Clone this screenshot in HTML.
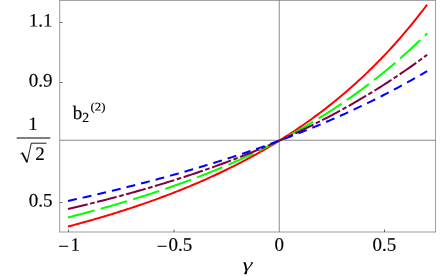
<!DOCTYPE html>
<html><head><meta charset="utf-8"><title>plot</title>
<style>
html,body{margin:0;padding:0;background:#fff;}
svg{display:block;}
text{font-family:"Liberation Serif",serif;fill:#000;text-rendering:geometricPrecision;}
</style></head><body>
<svg width="447" height="276" viewBox="0 0 447 276">
<rect x="0" y="0" width="447" height="276" fill="#fff"/>
<!-- axes lines -->
<g stroke="#666" fill="none">
<line x1="59.7" y1="140.22" x2="435.5" y2="140.22" stroke-width="0.78"/>
<line x1="279.25" y1="0.3" x2="279.25" y2="232" stroke-width="0.76"/>
<g stroke-width="0.64">
<line x1="59.4" y1="0.45" x2="435.82" y2="0.45"/>
<line x1="59.4" y1="232" x2="435.82" y2="232"/>
<line x1="59.7" y1="0.2" x2="59.7" y2="232.3"/>
<line x1="435.5" y1="0.2" x2="435.5" y2="232.3"/>
</g>
</g>
<!-- ticks -->
<g stroke="#2a2a2a" stroke-width="0.7" fill="none">
<line x1="60" y1="22.5" x2="62.6" y2="22.5"/>
<line x1="60" y1="82.5" x2="62.6" y2="82.5"/>
<line x1="60" y1="202.6" x2="62.6" y2="202.6"/>
<line x1="68.55" y1="232" x2="68.55" y2="229.45"/>
<line x1="174" y1="232" x2="174" y2="229.45"/>
<line x1="384.5" y1="232" x2="384.5" y2="229.45"/>
</g>
<!-- curves -->
<g stroke-linecap="butt" stroke-linejoin="round">
<path d="M68.00,226.56 L70.11,226.01 L72.22,225.44 L74.34,224.88 L76.45,224.31 L78.56,223.74 L80.67,223.16 L82.79,222.58 L84.90,221.99 L87.01,221.40 L89.12,220.80 L91.24,220.20 L93.35,219.60 L95.46,218.99 L97.57,218.38 L99.69,217.76 L101.80,217.14 L103.91,216.51 L106.02,215.88 L108.13,215.24 L110.25,214.60 L112.36,213.95 L114.47,213.30 L116.58,212.64 L118.70,211.98 L120.81,211.31 L122.92,210.64 L125.03,209.96 L127.15,209.28 L129.26,208.59 L131.37,207.90 L133.48,207.20 L135.60,206.49 L137.71,205.78 L139.82,205.06 L141.93,204.34 L144.04,203.61 L146.16,202.87 L148.27,202.13 L150.38,201.39 L152.49,200.63 L154.61,199.87 L156.72,199.11 L158.83,198.34 L160.94,197.56 L163.06,196.77 L165.17,195.98 L167.28,195.18 L169.39,194.38 L171.51,193.56 L173.62,192.74 L175.73,191.92 L177.84,191.08 L179.95,190.24 L182.07,189.39 L184.18,188.54 L186.29,187.68 L188.40,186.80 L190.52,185.93 L192.63,185.04 L194.74,184.15 L196.85,183.24 L198.97,182.33 L201.08,181.42 L203.19,180.49 L205.30,179.55 L207.42,178.61 L209.53,177.66 L211.64,176.70 L213.75,175.73 L215.86,174.75 L217.98,173.77 L220.09,172.77 L222.20,171.76 L224.31,170.75 L226.43,169.73 L228.54,168.69 L230.65,167.65 L232.76,166.60 L234.88,165.53 L236.99,164.46 L239.10,163.38 L241.21,162.28 L243.33,161.18 L245.44,160.07 L247.55,158.94 L249.66,157.81 L251.77,156.66 L253.89,155.50 L256.00,154.33 L258.11,153.15 L260.22,151.96 L262.34,150.76 L264.45,149.54 L266.56,148.32 L268.67,147.08 L270.79,145.83 L272.90,144.56 L275.01,143.29 L277.12,142.00 L279.24,140.70 L281.35,139.38 L283.46,138.05 L285.57,136.71 L287.68,135.36 L289.80,133.99 L291.91,132.61 L294.02,131.21 L296.13,129.80 L298.25,128.37 L300.36,126.94 L302.47,125.48 L304.58,124.01 L306.70,122.53 L308.81,121.03 L310.92,119.51 L313.03,117.98 L315.15,116.43 L317.26,114.87 L319.37,113.29 L321.48,111.69 L323.59,110.08 L325.71,108.45 L327.82,106.80 L329.93,105.13 L332.04,103.45 L334.16,101.75 L336.27,100.03 L338.38,98.29 L340.49,96.53 L342.61,94.76 L344.72,92.96 L346.83,91.15 L348.94,89.31 L351.06,87.46 L353.17,85.59 L355.28,83.69 L357.39,81.77 L359.50,79.84 L361.62,77.88 L363.73,75.90 L365.84,73.89 L367.95,71.87 L370.07,69.82 L372.18,67.75 L374.29,65.66 L376.40,63.54 L378.52,61.40 L380.63,59.23 L382.74,57.04 L384.85,54.83 L386.97,52.59 L389.08,50.32 L391.19,48.03 L393.30,45.71 L395.41,43.36 L397.53,40.99 L399.64,38.59 L401.75,36.16 L403.86,33.70 L405.98,31.22 L408.09,28.70 L410.20,26.16 L412.31,23.59 L414.43,20.98 L416.54,18.35 L418.65,15.68 L420.76,12.98 L422.88,10.25 L424.99,7.49 L427.10,4.69" fill="none" stroke="#ff0000" stroke-width="2"/>
<path d="M68.00,217.44 L70.11,216.91 L72.22,216.37 L74.34,215.83 L76.45,215.28 L78.56,214.74 L80.67,214.19 L82.79,213.63 L84.90,213.07 L87.01,212.51 L89.12,211.95 L91.24,211.38 L93.35,210.81 L95.46,210.23 L97.57,209.65 L99.69,209.07 L101.80,208.49 L103.91,207.90 L106.02,207.30 L108.13,206.70 L110.25,206.10 L112.36,205.50 L114.47,204.89 L116.58,204.27 L118.70,203.65 L120.81,203.03 L122.92,202.41 L125.03,201.77 L127.15,201.14 L129.26,200.50 L131.37,199.86 L133.48,199.21 L135.60,198.56 L137.71,197.90 L139.82,197.24 L141.93,196.57 L144.04,195.90 L146.16,195.23 L148.27,194.55 L150.38,193.86 L152.49,193.18 L154.61,192.48 L156.72,191.78 L158.83,191.08 L160.94,190.37 L163.06,189.65 L165.17,188.94 L167.28,188.21 L169.39,187.48 L171.51,186.75 L173.62,186.01 L175.73,185.26 L177.84,184.51 L179.95,183.75 L182.07,182.99 L184.18,182.22 L186.29,181.45 L188.40,180.67 L190.52,179.88 L192.63,179.09 L194.74,178.29 L196.85,177.49 L198.97,176.68 L201.08,175.87 L203.19,175.04 L205.30,174.22 L207.42,173.38 L209.53,172.54 L211.64,171.69 L213.75,170.84 L215.86,169.98 L217.98,169.11 L220.09,168.24 L222.20,167.36 L224.31,166.47 L226.43,165.58 L228.54,164.67 L230.65,163.77 L232.76,162.85 L234.88,161.93 L236.99,161.00 L239.10,160.06 L241.21,159.11 L243.33,158.16 L245.44,157.20 L247.55,156.23 L249.66,155.25 L251.77,154.27 L253.89,153.27 L256.00,152.27 L258.11,151.26 L260.22,150.25 L262.34,149.22 L264.45,148.19 L266.56,147.14 L268.67,146.09 L270.79,145.03 L272.90,143.96 L275.01,142.88 L277.12,141.80 L279.24,140.70 L281.35,139.59 L283.46,138.48 L285.57,137.35 L287.68,136.22 L289.80,135.07 L291.91,133.92 L294.02,132.76 L296.13,131.58 L298.25,130.40 L300.36,129.20 L302.47,128.00 L304.58,126.78 L306.70,125.56 L308.81,124.32 L310.92,123.07 L313.03,121.81 L315.15,120.54 L317.26,119.26 L319.37,117.97 L321.48,116.66 L323.59,115.35 L325.71,114.02 L327.82,112.68 L329.93,111.33 L332.04,109.97 L334.16,108.59 L336.27,107.20 L338.38,105.80 L340.49,104.38 L342.61,102.96 L344.72,101.52 L346.83,100.06 L348.94,98.60 L351.06,97.12 L353.17,95.62 L355.28,94.11 L357.39,92.59 L359.50,91.05 L361.62,89.50 L363.73,87.94 L365.84,86.36 L367.95,84.76 L370.07,83.15 L372.18,81.53 L374.29,79.89 L376.40,78.23 L378.52,76.56 L380.63,74.87 L382.74,73.17 L384.85,71.44 L386.97,69.71 L389.08,67.95 L391.19,66.18 L393.30,64.39 L395.41,62.59 L397.53,60.76 L399.64,58.92 L401.75,57.06 L403.86,55.19 L405.98,53.29 L408.09,51.37 L410.20,49.44 L412.31,47.49 L414.43,45.51 L416.54,43.52 L418.65,41.51 L420.76,39.48 L422.88,37.42 L424.99,35.35 L427.10,33.26" fill="none" stroke="#00ff00" stroke-width="2" stroke-dasharray="27.4 6.4"/>
<path d="M68.00,208.96 L70.11,208.47 L72.22,207.98 L74.34,207.48 L76.45,206.98 L78.56,206.48 L80.67,205.97 L82.79,205.46 L84.90,204.95 L87.01,204.44 L89.12,203.92 L91.24,203.40 L93.35,202.87 L95.46,202.34 L97.57,201.81 L99.69,201.28 L101.80,200.74 L103.91,200.20 L106.02,199.66 L108.13,199.11 L110.25,198.56 L112.36,198.01 L114.47,197.45 L116.58,196.89 L118.70,196.32 L120.81,195.75 L122.92,195.18 L125.03,194.61 L127.15,194.03 L129.26,193.45 L131.37,192.86 L133.48,192.27 L135.60,191.68 L137.71,191.08 L139.82,190.48 L141.93,189.88 L144.04,189.27 L146.16,188.66 L148.27,188.04 L150.38,187.42 L152.49,186.80 L154.61,186.17 L156.72,185.54 L158.83,184.90 L160.94,184.26 L163.06,183.62 L165.17,182.97 L167.28,182.32 L169.39,181.66 L171.51,181.00 L173.62,180.33 L175.73,179.66 L177.84,178.99 L179.95,178.31 L182.07,177.63 L184.18,176.94 L186.29,176.25 L188.40,175.55 L190.52,174.85 L192.63,174.15 L194.74,173.44 L196.85,172.72 L198.97,172.00 L201.08,171.28 L203.19,170.55 L205.30,169.81 L207.42,169.08 L209.53,168.33 L211.64,167.58 L213.75,166.83 L215.86,166.07 L217.98,165.31 L220.09,164.54 L222.20,163.76 L224.31,162.98 L226.43,162.20 L228.54,161.41 L230.65,160.61 L232.76,159.81 L234.88,159.00 L236.99,158.19 L239.10,157.37 L241.21,156.55 L243.33,155.72 L245.44,154.88 L247.55,154.04 L249.66,153.20 L251.77,152.34 L253.89,151.48 L256.00,150.62 L258.11,149.75 L260.22,148.87 L262.34,147.99 L264.45,147.10 L266.56,146.21 L268.67,145.31 L270.79,144.40 L272.90,143.48 L275.01,142.56 L277.12,141.64 L279.24,140.70 L281.35,139.76 L283.46,138.81 L285.57,137.86 L287.68,136.90 L289.80,135.93 L291.91,134.96 L294.02,133.98 L296.13,132.99 L298.25,131.99 L300.36,130.99 L302.47,129.98 L304.58,128.96 L306.70,127.94 L308.81,126.90 L310.92,125.86 L313.03,124.82 L315.15,123.76 L317.26,122.70 L319.37,121.63 L321.48,120.55 L323.59,119.46 L325.71,118.37 L327.82,117.27 L329.93,116.16 L332.04,115.04 L334.16,113.91 L336.27,112.77 L338.38,111.63 L340.49,110.48 L342.61,109.32 L344.72,108.15 L346.83,106.97 L348.94,105.78 L351.06,104.58 L353.17,103.38 L355.28,102.16 L357.39,100.94 L359.50,99.71 L361.62,98.46 L363.73,97.21 L365.84,95.95 L367.95,94.68 L370.07,93.40 L372.18,92.11 L374.29,90.81 L376.40,89.49 L378.52,88.17 L380.63,86.84 L382.74,85.50 L384.85,84.15 L386.97,82.79 L389.08,81.42 L391.19,80.03 L393.30,78.64 L395.41,77.23 L397.53,75.82 L399.64,74.39 L401.75,72.95 L403.86,71.50 L405.98,70.04 L408.09,68.57 L410.20,67.09 L412.31,65.59 L414.43,64.08 L416.54,62.56 L418.65,61.03 L420.76,59.49 L422.88,57.93 L424.99,56.36 L427.10,54.78" fill="none" stroke="#800040" stroke-width="2" stroke-dasharray="20.2 2.6 4.6 2.6"/>
<path d="M68.00,200.93 L70.11,200.47 L72.22,200.00 L74.34,199.53 L76.45,199.06 L78.56,198.59 L80.67,198.11 L82.79,197.63 L84.90,197.15 L87.01,196.67 L89.12,196.19 L91.24,195.70 L93.35,195.21 L95.46,194.72 L97.57,194.23 L99.69,193.73 L101.80,193.23 L103.91,192.73 L106.02,192.23 L108.13,191.73 L110.25,191.22 L112.36,190.71 L114.47,190.20 L116.58,189.68 L118.70,189.16 L120.81,188.64 L122.92,188.12 L125.03,187.60 L127.15,187.07 L129.26,186.54 L131.37,186.01 L133.48,185.47 L135.60,184.94 L137.71,184.40 L139.82,183.85 L141.93,183.31 L144.04,182.76 L146.16,182.21 L148.27,181.65 L150.38,181.10 L152.49,180.54 L154.61,179.97 L156.72,179.41 L158.83,178.84 L160.94,178.27 L163.06,177.69 L165.17,177.12 L167.28,176.54 L169.39,175.95 L171.51,175.37 L173.62,174.78 L175.73,174.18 L177.84,173.59 L179.95,172.99 L182.07,172.39 L184.18,171.78 L186.29,171.17 L188.40,170.56 L190.52,169.95 L192.63,169.33 L194.74,168.71 L196.85,168.08 L198.97,167.45 L201.08,166.82 L203.19,166.18 L205.30,165.55 L207.42,164.90 L209.53,164.26 L211.64,163.61 L213.75,162.95 L215.86,162.30 L217.98,161.63 L220.09,160.97 L222.20,160.30 L224.31,159.63 L226.43,158.95 L228.54,158.27 L230.65,157.59 L232.76,156.90 L234.88,156.21 L236.99,155.51 L239.10,154.81 L241.21,154.11 L243.33,153.40 L245.44,152.69 L247.55,151.97 L249.66,151.25 L251.77,150.53 L253.89,149.80 L256.00,149.07 L258.11,148.33 L260.22,147.59 L262.34,146.84 L264.45,146.09 L266.56,145.33 L268.67,144.57 L270.79,143.81 L272.90,143.04 L275.01,142.27 L277.12,141.49 L279.24,140.70 L281.35,139.92 L283.46,139.12 L285.57,138.33 L287.68,137.52 L289.80,136.71 L291.91,135.90 L294.02,135.08 L296.13,134.26 L298.25,133.43 L300.36,132.60 L302.47,131.76 L304.58,130.92 L306.70,130.07 L308.81,129.21 L310.92,128.35 L313.03,127.49 L315.15,126.62 L317.26,125.74 L319.37,124.86 L321.48,123.97 L323.59,123.08 L325.71,122.18 L327.82,121.27 L329.93,120.36 L332.04,119.44 L334.16,118.52 L336.27,117.59 L338.38,116.66 L340.49,115.72 L342.61,114.77 L344.72,113.81 L346.83,112.85 L348.94,111.89 L351.06,110.91 L353.17,109.94 L355.28,108.95 L357.39,107.96 L359.50,106.96 L361.62,105.95 L363.73,104.94 L365.84,103.92 L367.95,102.89 L370.07,101.86 L372.18,100.82 L374.29,99.77 L376.40,98.72 L378.52,97.65 L380.63,96.59 L382.74,95.51 L384.85,94.42 L386.97,93.33 L389.08,92.23 L391.19,91.13 L393.30,90.01 L395.41,88.89 L397.53,87.76 L399.64,86.62 L401.75,85.48 L403.86,84.32 L405.98,83.16 L408.09,81.99 L410.20,80.81 L412.31,79.62 L414.43,78.43 L416.54,77.22 L418.65,76.01 L420.76,74.79 L422.88,73.56 L424.99,72.32 L427.10,71.07" fill="none" stroke="#0000ff" stroke-width="2" stroke-dasharray="9 6.02"/>
</g>
<!-- labels -->
<g font-size="19" style="filter:grayscale(1)" stroke="#000" stroke-width="0.15">
<text x="52.6" y="26.6" text-anchor="end" transform="rotate(0.03 52.6 26.6)">1.1</text>
<text x="52.6" y="86.6" text-anchor="end" transform="rotate(0.03 52.6 86.6)">0.9</text>
<text x="52.6" y="206.6" text-anchor="end" transform="rotate(0.03 52.6 206.6)">0.5</text>
<text x="33" y="130" text-anchor="middle" transform="rotate(0.03 33 130)">1</text>
<text x="40.0" y="160" text-anchor="middle" transform="rotate(0.03 40.0 160)">2</text>
<text x="58.2" y="252.4" text-anchor="start" transform="rotate(0.03 58.2 252.4)">−</text>
<text x="70.5" y="250.8" text-anchor="start" transform="rotate(0.03 70.5 250.8)">1</text>
<text x="156.8" y="252.4" text-anchor="start" transform="rotate(0.03 156.8 252.4)">−</text>
<text x="168.6" y="250.8" text-anchor="start" transform="rotate(0.03 168.6 250.8)">0.5</text>
<text x="279.3" y="250.8" text-anchor="middle" transform="rotate(0.03 279.3 250.8)">0</text>
<text x="384.3" y="250.8" text-anchor="middle" transform="rotate(0.03 384.3 250.8)">0.5</text>
<text x="72.8" y="119" text-anchor="start" transform="rotate(0.03 72.8 119)">b</text>
<text x="82.3" y="122" text-anchor="start" transform="rotate(0.03 82.3 122)" font-size="13.8">2</text>
<text x="0" y="0" text-anchor="middle" font-style="italic" stroke="none" transform="translate(247.4 270.5) scale(1.33 0.95) rotate(0.03)">γ</text>
<text x="0" y="0" font-size="11.6" transform="translate(90.6 110.4) scale(1.1 1) rotate(0.03)">(2)</text>
</g>
<line x1="16.7" y1="138.0" x2="50.3" y2="138.0" stroke="#000" stroke-width="1.05"/>
<g fill="none" stroke="#000"><path d="M20.3,154.2 L22.3,152.8" stroke-width="0.7"/><path d="M22.1,152.6 L27.0,162.2" stroke-width="1.7"/><path d="M27.0,162.6 L31.3,143.2 L46.5,143.2" stroke-width="0.9"/></g>
</svg>
</body></html>
